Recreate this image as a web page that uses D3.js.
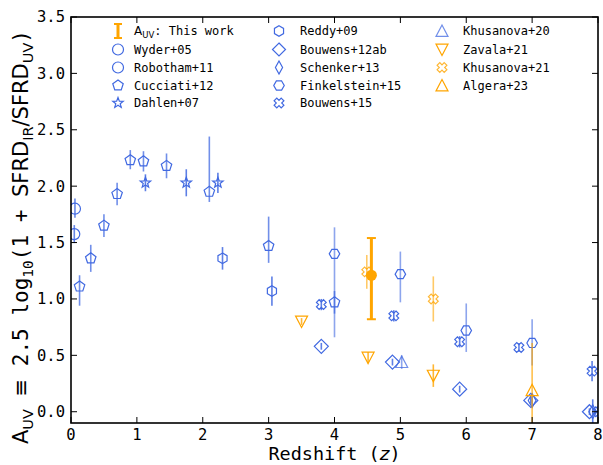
<!DOCTYPE html>
<html><head><meta charset="utf-8">
<script src="https://cdn.jsdelivr.net/npm/d3@7"></script>
<style>
html,body{margin:0;padding:0;background:#fff;}
svg{display:block;}
</style></head>
<body>
<svg id="chart" width="603" height="465"></svg>
<script>
// ---------------- DATA ----------------
const xTicks = [0,1,2,3,4,5,6,7,8];
const yTicks = [0.0,0.5,1.0,1.5,2.0,2.5,3.0,3.5];

const thisWork_z = [4.56], thisWork_y = [1.21], thisWork_hi = [0.33], thisWork_lo = [0.39];

const wyder_z = [0.06], wyder_y = [1.80], wyder_hi = [0.09], wyder_lo = [0.08];
const robotham_z = [0.05], robotham_y = [1.575], robotham_hi = [0.08], robotham_lo = [0.08];
const cucciati_z  = [0.13, 0.30, 0.50, 0.70, 0.90, 1.10, 1.45, 2.10, 3.00, 4.00];
const cucciati_y  = [1.11, 1.36, 1.65, 1.93, 2.23, 2.22, 2.18, 1.95, 1.47, 0.97];
const cucciati_hi = [0.10, 0.12, 0.10, 0.10, 0.09, 0.09, 0.11, 0.49, 0.26, 0.10];
const cucciati_lo = [0.17, 0.12, 0.10, 0.10, 0.08, 0.09, 0.11, 0.09, 0.15, 0.10];
const dahlen_z = [1.13, 1.75, 2.23], dahlen_y = [2.03, 2.03, 2.03], dahlen_hi = [0.075, 0.12, 0.09], dahlen_lo = [0.075, 0.12, 0.09];
const reddy_z = [2.30, 3.05], reddy_y = [1.36, 1.07], reddy_hi = [0.10, 0.13], reddy_lo = [0.10, 0.13];
const bouwens12_z = [3.80, 4.88, 5.90, 6.98, 7.87], bouwens12_y = [0.58, 0.44, 0.20, 0.10, 0.00];
const bouwens12_hi = [0.03, 0.03, 0.03, 0.03, 0.03], bouwens12_lo = [0.03, 0.03, 0.03, 0.03, 0.03];
const schenker_z = [7.00, 7.92], schenker_y = [0.10, 0.00], schenker_hi = [0.05, 0.11], schenker_lo = [0.05, 0.11];
const finkel_z = [4.00, 5.00, 6.00, 7.00], finkel_y = [1.40, 1.22, 0.72, 0.61];
const finkel_hi = [0.235, 0.20, 0.24, 0.21], finkel_lo = [0.74, 0.25, 0.19, 0.20];
const bouwens15_z = [3.80, 4.90, 5.90, 6.80, 7.91, 8.00], bouwens15_y = [0.95, 0.85, 0.62, 0.57, 0.36, 0.00];
const bouwens15_hi = [0.05, 0.05, 0.05, 0.04, 0.09, 0.05], bouwens15_lo = [0.05, 0.05, 0.05, 0.04, 0.09, 0.05];
const khus20_z = [5.02], khus20_y = [0.44], khus20_hi = [0.06], khus20_lo = [0.06];
const zavala_z = [3.50, 4.51, 5.50], zavala_y = [0.80, 0.48, 0.32], zavala_hi = [0.03, 0.05, 0.10], zavala_lo = [0.03, 0.05, 0.10];
const khus21_z = [4.49, 5.50], khus21_y = [1.24, 1.00], khus21_hi = [0.15, 0.20], khus21_lo = [0.15, 0.20];
const algera_z = [7.00], algera_y = [0.19], algera_hi = [0.42], algera_lo = [0.50];

const legendLabels = ["This work","Wyder+05","Robotham+11","Cucciati+12","Dahlen+07",
  "Reddy+09","Bouwens+12ab","Schenker+13","Finkelstein+15","Bouwens+15",
  "Khusanova+20","Zavala+21","Khusanova+21","Algera+23"];

// ---------------- STYLE ----------------
const BLUE = "#4169e1", ORANGE = "#ffa500";
const MONO = "'DejaVu Sans Mono', monospace", SANS = "'DejaVu Sans', sans-serif";

const series = [
  {name:"Wyder+05", z:wyder_z, y:wyder_y, hi:wyder_hi, lo:wyder_lo, m:"o", s:11, c:BLUE, ea:0.8},
  {name:"Robotham+11", z:robotham_z, y:robotham_y, hi:robotham_hi, lo:robotham_lo, m:"o", s:11, c:BLUE, ea:0.8},
  {name:"Cucciati+12", z:cucciati_z, y:cucciati_y, hi:cucciati_hi, lo:cucciati_lo, m:"p", s:11, c:BLUE, ea:0.75},
  {name:"Dahlen+07", z:dahlen_z, y:dahlen_y, hi:dahlen_hi, lo:dahlen_lo, m:"*", s:11, c:BLUE, ea:0.85},
  {name:"Reddy+09", z:reddy_z, y:reddy_y, hi:reddy_hi, lo:reddy_lo, m:"h", s:10.5, c:BLUE, ea:0.85},
  {name:"Bouwens+12ab", z:bouwens12_z, y:bouwens12_y, hi:bouwens12_hi, lo:bouwens12_lo, m:"D", s:14, c:BLUE, ea:0.85},
  {name:"Schenker+13", z:schenker_z, y:schenker_y, hi:schenker_hi, lo:schenker_lo, m:"d", s:14, c:BLUE, ea:0.85},
  {name:"Finkelstein+15", z:finkel_z, y:finkel_y, hi:finkel_hi, lo:finkel_lo, m:"H", s:10.5, c:BLUE, ea:0.6},
  {name:"Bouwens+15", z:bouwens15_z, y:bouwens15_y, hi:bouwens15_hi, lo:bouwens15_lo, m:"X", s:10, c:BLUE, ea:0.85},
  {name:"Khusanova+20", z:khus20_z, y:khus20_y, hi:khus20_hi, lo:khus20_lo, m:"^", s:12, c:BLUE, ea:0.6, ma:0.75},
  {name:"Zavala+21", z:zavala_z, y:zavala_y, hi:zavala_hi, lo:zavala_lo, m:"v", s:12, c:ORANGE, ea:0.8},
  {name:"Khusanova+21", z:khus21_z, y:khus21_y, hi:khus21_hi, lo:khus21_lo, m:"X", s:10, c:ORANGE, ea:0.6, ma:0.8},
  {name:"Algera+23", z:algera_z, y:algera_y, hi:algera_hi, lo:algera_lo, m:"^", s:12, c:ORANGE, ea:0.7}
];

// ---------------- MARKERS ----------------
function poly(pts){ return "M" + pts.map(p=>p[0].toFixed(2)+","+p[1].toFixed(2)).join("L") + "Z"; }
function regular(n, r, rot){ const a=[]; for(let i=0;i<n;i++){ const t=rot+2*Math.PI*i/n; a.push([r*Math.sin(t), -r*Math.cos(t)]);} return a; }
function markerPath(m, s){
  const r = s/2;
  switch(m){
    case "o": return `M${r},0A${r},${r} 0 1,1 ${-r},0A${r},${r} 0 1,1 ${r},0Z`;
    case "p": return poly(regular(5, r, 0));
    case "h": return poly(regular(6, r, 0));
    case "H": return poly(regular(6, r, Math.PI/6));
    case "*": { const a=[]; for(let i=0;i<10;i++){ const rr = i%2? r*0.42 : r; const t=Math.PI*i/5; a.push([rr*Math.sin(t), -rr*Math.cos(t)]);} return poly(a); }
    case "D": return poly([[0,-r],[r,0],[0,r],[-r,0]]);
    case "d": return poly([[0,-r],[r*0.55,0],[0,r],[-r*0.55,0]]);
    case "^": return poly([[0,-r],[r,r*0.9],[-r,r*0.9]]);
    case "v": return poly([[0,r],[r,-r*0.9],[-r,-r*0.9]]);
    case "X": { const k=r, w=r*0.38;
      const plus=[[-w,-k],[w,-k],[w,-w],[k,-w],[k,w],[w,w],[w,k],[-w,k],[-w,w],[-k,w],[-k,-w],[-w,-w]];
      const c=Math.SQRT1_2; return poly(plus.map(p=>[(p[0]-p[1])*c,(p[0]+p[1])*c])); }
  }
}

// ---------------- LAYOUT ----------------
const svg = d3.select("#chart");
const L=71, R=598, T=17, B=423;
const x = d3.scaleLinear().domain([0,8]).range([L,R]);
const y = d3.scaleLinear().domain([-0.1,3.5]).range([B,T]);

svg.append("defs").append("clipPath").attr("id","clip")
  .append("rect").attr("x",L).attr("y",T).attr("width",R-L).attr("height",B-T);

const plot = svg.append("g").attr("clip-path","url(#clip)");

series.forEach(sr=>{
  const g = plot.append("g");
  sr.z.forEach((zv,i)=>{
    g.append("line").attr("x1",x(zv)).attr("x2",x(zv))
      .attr("y1",y(sr.y[i]+sr.hi[i])).attr("y2",y(sr.y[i]-sr.lo[i]))
      .attr("stroke",sr.c).attr("stroke-width",1.6).attr("stroke-opacity",sr.ea);
  });
  sr.z.forEach((zv,i)=>{
    g.append("path").attr("d",markerPath(sr.m,sr.s))
      .attr("transform",`translate(${x(zv)},${y(sr.y[i])})`)
      .attr("fill","none").attr("stroke",sr.c).attr("stroke-width",1.2)
      .attr("stroke-opacity", sr.ma||1);
  });
});

// This work
thisWork_z.forEach((zv,i)=>{
  const g = plot.append("g");
  const cx=x(zv), y1=y(thisWork_y[i]+thisWork_hi[i]), y2=y(thisWork_y[i]-thisWork_lo[i]);
  g.append("line").attr("x1",cx).attr("x2",cx).attr("y1",y1).attr("y2",y2).attr("stroke",ORANGE).attr("stroke-width",3);
  [y1,y2].forEach(yy=>g.append("line").attr("x1",cx-4.5).attr("x2",cx+4.5).attr("y1",yy).attr("y2",yy).attr("stroke",ORANGE).attr("stroke-width",2));
  g.append("circle").attr("cx",cx).attr("cy",y(thisWork_y[i])).attr("r",5.5).attr("fill",ORANGE);
});

// ---------------- AXES ----------------
const axG = svg.append("g");
const tickLen = 6;
xTicks.forEach(t=>{
  axG.append("line").attr("x1",x(t)).attr("x2",x(t)).attr("y1",B).attr("y2",B-tickLen).attr("stroke","#000").attr("stroke-width",1);
  axG.append("line").attr("x1",x(t)).attr("x2",x(t)).attr("y1",T).attr("y2",T+tickLen).attr("stroke","#000").attr("stroke-width",1);
  axG.append("text").attr("x",x(t)).attr("y",B+17).attr("text-anchor","middle")
    .attr("font-family",MONO).attr("font-size",15.5).text(d3.format("d")(t));
});
yTicks.forEach(t=>{
  axG.append("line").attr("x1",L).attr("x2",L+tickLen).attr("y1",y(t)).attr("y2",y(t)).attr("stroke","#000").attr("stroke-width",1);
  axG.append("line").attr("x1",R).attr("x2",R-tickLen).attr("y1",y(t)).attr("y2",y(t)).attr("stroke","#000").attr("stroke-width",1);
  axG.append("text").attr("x",L-6).attr("y",y(t)).attr("dy","0.35em").attr("text-anchor","end")
    .attr("font-family",MONO).attr("font-size",15.5).text(d3.format(".1f")(t));
});
axG.append("rect").attr("x",L).attr("y",T).attr("width",R-L).attr("height",B-T)
  .attr("fill","none").attr("stroke","#000").attr("stroke-width",1.6);

// x label
const xl = svg.append("text").attr("x",(L+R)/2).attr("y",460).attr("text-anchor","middle")
  .attr("font-family",MONO).attr("font-size",18.5);
xl.append("tspan").text("Redshift (");
xl.append("tspan").attr("font-family",SANS).attr("font-style","italic").text("z");
xl.append("tspan").text(")");

// y label
const yl = svg.append("text").attr("transform","translate(28,237) rotate(-90)").attr("text-anchor","middle")
  .attr("font-family",MONO).attr("font-size",21);
function sub(t, fam){ yl.append("tspan").attr("font-family",fam).attr("font-size",14.5).attr("dy",4.5).text(t); }
yl.append("tspan").attr("font-family",SANS).text("A");
sub("UV", SANS);
yl.append("tspan").attr("dy",-4.5).text(" ");
yl.append("tspan").attr("font-family",SANS).text("≡");
yl.append("tspan").text(" 2.5 log");
sub("10", MONO);
yl.append("tspan").attr("dy",-4.5).text("(1 + ");
yl.append("tspan").attr("font-family",SANS).text("SFRD");
sub("IR", SANS);
yl.append("tspan").attr("dy",-4.5).attr("font-family",SANS).text("/SFRD");
sub("UV", SANS);
yl.append("tspan").attr("dy",-4.5).text(")");

// ---------------- LEGEND ----------------
const colMarkX = [118, 279, 442], colTextX = [134, 300, 463];
const rowY = [31, 49.5, 67.5, 85.5, 103];
const lg = svg.append("g");
const legendItems = [{name:legendLabels[0], thiswork:true}].concat(series);
legendItems.forEach((it,i)=>{
  const col = i<5 ? 0 : (i<10 ? 1 : 2);
  const row = i<5 ? i : (i<10 ? i-5 : i-10);
  const mx = colMarkX[col], my = rowY[row];
  if(it.thiswork){
    lg.append("line").attr("x1",mx).attr("x2",mx).attr("y1",my-7).attr("y2",my+7).attr("stroke",ORANGE).attr("stroke-width",3);
    [my-7,my+7].forEach(yy=>lg.append("line").attr("x1",mx-4).attr("x2",mx+4).attr("y1",yy).attr("y2",yy).attr("stroke",ORANGE).attr("stroke-width",2));
    const t = lg.append("text").attr("x",colTextX[col]).attr("y",my).attr("dy","0.35em")
      .attr("font-family",MONO).attr("font-size",12);
    t.append("tspan").attr("font-family",SANS).text("A");
    t.append("tspan").attr("font-family",SANS).attr("font-size",8.5).attr("dy",3).text("UV");
    t.append("tspan").attr("dy",-3).text(": " + it.name);
  } else {
    lg.append("path").attr("d",markerPath(it.m, it.m==="D"||it.m==="d"?13:it.s))
      .attr("transform",`translate(${mx},${my})`)
      .attr("fill","none").attr("stroke",it.c).attr("stroke-width",1.2).attr("stroke-opacity",it.ma||1);
    lg.append("text").attr("x",colTextX[col]).attr("y",my).attr("dy","0.35em")
      .attr("font-family",MONO).attr("font-size",12).text(it.name);
  }
});
</script>
</body></html>
